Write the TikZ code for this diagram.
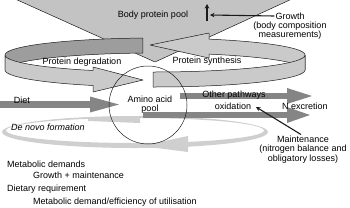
\documentclass[tikz,border=0pt]{standalone}
\usepackage{fontspec}
\setmainfont{Liberation Sans}
\usetikzlibrary{arrows.meta,positioning}
\definecolor{ink}{HTML}{1A1A1A}
\definecolor{poolc}{HTML}{C3C3C3}
\definecolor{ringlt}{HTML}{CACACA}
\definecolor{ringdk}{HTML}{9D9D9D}
\definecolor{flow}{HTML}{858585}
\definecolor{novo}{HTML}{CFCFCF}
\tikzset{
  lbl/.style={font=\fontsize{9}{9.6}\selectfont,inner sep=0pt,align=center},
  llbl/.style={lbl,anchor=west},
  rim/.style={draw=ink,line width=0.5pt,line join=round},
  fat/.style 2 args={flow,line width=#1,-{Triangle[length=#2,width=16pt,line width=0pt]}},
  ptr/.style={ink,line width=1.1pt,-{Stealth[length=4.5pt,width=4.5pt]}},
  aapool/.style={circle,draw=ink,line width=0.5pt,minimum size=78pt,inner sep=0pt},
}
\begin{document}
\begin{tikzpicture}[x=1pt,y=-1pt]
  \useasboundingbox (0,0) rectangle (350,207);
  % de novo loop underneath
  \fill[novo,even odd rule] (135,132) ellipse [x radius=133,y radius=16]
    (135,130.5) ellipse [x radius=129,y radius=12.5];
  \fill[novo] (88,117.5) -- (140,116.5) -- (140,123) -- (88,121) -- cycle;
  \fill[novo] (188,136) -- (141,146) -- (188,152) -- cycle;
  % flows out of / into the pool
  \coordinate (dsrc) at (-2,104.5);  \coordinate (dtip) at (119,104.5);
  \coordinate (osrc) at (180,96);    \coordinate (otip) at (312,96);
  \coordinate (nsrc) at (143,115);   \coordinate (ntip) at (310,115);
  \draw[fat={6pt}{23pt}] (nsrc) -- (ntip);
  \draw[fat={6pt}{25pt}] (osrc) -- (otip);
  \draw[fat={7pt}{29pt}] (dsrc) -- (dtip);
  % body protein pool
  \filldraw[rim,fill=poolc] (13,-2) -- (294,-2) -- (155,62) -- cycle;
  % turnover ring: back halves first
  \filldraw[rim,fill=ringlt] plot[domain=0:-68.9,samples=40] ({155+150*cos(\x)},{55+17*sin(\x)})
    -- (209,33) -- (150,45) -- (209,58)
    -- plot[domain=-68.9:0,samples=40] ({155+150*cos(\x)},{70+17*sin(\x)}) -- cycle;
  \filldraw[rim,fill=ringdk] plot[domain=265.4:180,samples=40] ({155+150*cos(\x)},{55+17*sin(\x)})
    -- plot[domain=180:265.4,samples=40] ({155+150*cos(\x)},{70+17*sin(\x)}) -- cycle;
  \filldraw[rim,fill=ringlt] plot[domain=90.76:0,samples=40] ({155+150*cos(\x)},{55+17*sin(\x)})
    -- plot[domain=0:90.76,samples=40] ({155+150*cos(\x)},{70+17*sin(\x)}) -- cycle;
  \filldraw[rim,fill=ringlt] plot[domain=180:114.4,samples=40] ({155+150*cos(\x)},{55+17*sin(\x)})
    -- (93,67) -- (143,80) -- (93,92)
    -- plot[domain=114.4:180,samples=40] ({155+150*cos(\x)},{70+17*sin(\x)}) -- cycle;
  % amino acid pool
  \node[aapool,lbl] (aap) at (148,105) {};
  \node[lbl] (aaptxt) at (150,104.5) {Amino acid\\pool};
  % labels
  \node[lbl] (bpp) at (153,15) {Body protein pool};
  \node[lbl] (deg) at (82,62) {Protein degradation};
  \node[lbl] (syn) at (207,61) {Protein synthesis};
  \node[lbl] (diet) at (22,100) {Diet};
  \node[lbl,font=\fontsize{9}{9.6}\selectfont\itshape] (novo) at (48,127) {De novo formation};
  \node[lbl] (oth) at (234,95) {Other pathways};
  \node[lbl] (oxi) at (233,106) {oxidation};
  \node[lbl] (nex) at (305,106) {N excretion};
  \node[lbl,inner sep=1pt] (growth) at (290,16) {Growth};
  \node[lbl] (bodyc) at (290,30.5) {(body composition\\measurements)};
  \node[lbl,inner sep=1pt] (maint) at (303,149.5) {Maintenance\\(nitrogen balance and\\obligatory losses)};
  \node[llbl] (md) at (7,164) {Metabolic demands};
  \node[llbl] (gm) at (33,175.5) {Growth + maintenance};
  \node[llbl] (dr) at (7,189.5) {Dietary requirement};
  \node[llbl] (mde) at (33,202) {Metabolic demand/efficiency of utilisation};
  % pointers
  \coordinate (gtip) at (210,15);
  \coordinate (gbase) at (207,21);  \coordinate (gup) at (207,4);
  \coordinate (mtip) at (256,107);
  \draw[ptr] (growth.west) -- (gtip);
  \draw[ptr] (gbase) -- (gup);
  \draw[ptr] ([xshift=-2pt]maint.north) -- (mtip);
\end{tikzpicture}
\end{document}
